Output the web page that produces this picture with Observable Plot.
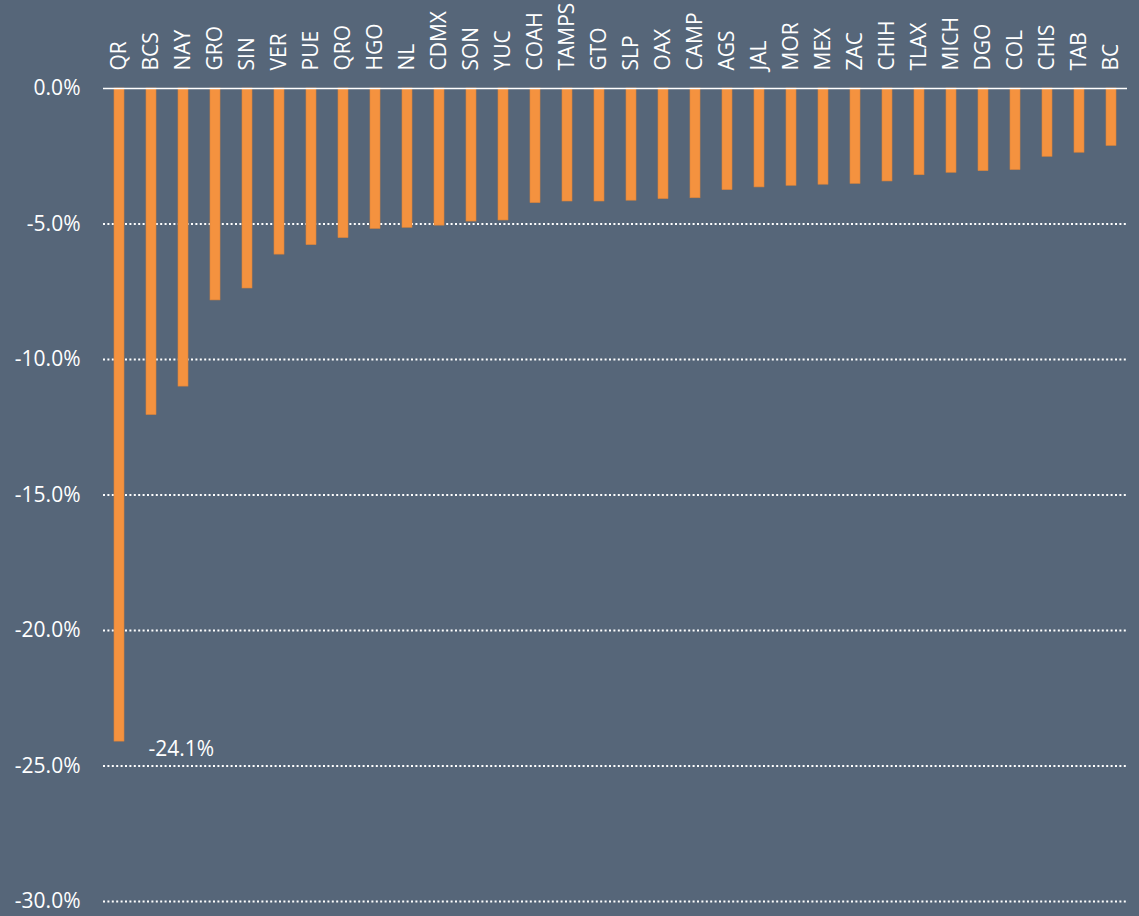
<!DOCTYPE html>
<html>
<head>
<meta charset="utf-8">
<script src="https://cdn.jsdelivr.net/npm/d3@7"></script>
<script src="https://cdn.jsdelivr.net/npm/@observablehq/plot@0.6"></script>
<style>
  html, body { margin: 0; padding: 0; background: #566679; }
  #chart svg { display: block; }
</style>
</head>
<body>
<div id="chart"></div>
<script>
const states = ["QR","BCS","NAY","GRO","SIN","VER","PUE","QRO","HGO","NL","CDMX","SON","YUC","COAH","TAMPS","GTO","SLP","OAX","CAMP","AGS","JAL","MOR","MEX","ZAC","CHIH","TLAX","MICH","DGO","COL","CHIS","TAB","BC"];
const values = [-24.1,-12.05,-11.0,-7.82,-7.38,-6.13,-5.78,-5.52,-5.18,-5.14,-5.06,-4.91,-4.87,-4.23,-4.17,-4.17,-4.14,-4.08,-4.05,-3.75,-3.65,-3.59,-3.55,-3.52,-3.43,-3.2,-3.11,-3.05,-3.01,-2.52,-2.37,-2.12];
const yTicks = [0,-5,-10,-15,-20,-25,-30];
const gridTicks = [-5,-10,-15,-20,-25,-30];
const highlight = [{state: "QR", value: -24.1, label: "-24.1%"}];

const data = states.map((s, i) => ({state: s, value: values[i]}));
const font = "'Open Sans', sans-serif";

const chart = Plot.plot({
  width: 1139,
  height: 916,
  marginLeft: 103,
  marginRight: 12,
  marginTop: 88,
  marginBottom: 15,
  style: {background: "#566679", color: "white", fontFamily: font, fontSize: "21px"},
  x: {domain: states, paddingInner: 0.68, paddingOuter: 0.34, axis: null},
  y: {domain: [-30, 0], label: null},
  marks: [
    Plot.ruleY(gridTicks, {stroke: "white", strokeWidth: 2, strokeDasharray: "2,2.4"}),
    Plot.barY(data, {x: "state", y: "value", fill: "#F4923F", stroke: "#d9833a", strokeWidth: 0.6}),
    Plot.ruleY([0], {stroke: "white", strokeWidth: 1.6}),
    Plot.axisY({ticks: yTicks, label: null, tickFormat: d => d.toFixed(1) + "%", tickSize: 0, tickPadding: 23, fontSize: 21, fill: "white", fontFamily: font}),
    Plot.text(states, {x: d => d, y: () => 0, text: d => d, rotate: -90, textAnchor: "start", dy: -18, fill: "white", fontSize: 21, fontFamily: font}),
    Plot.text(highlight, {x: "state", y: "value", text: "label", textAnchor: "start", dx: 29, dy: 8, fill: "white", fontSize: 21, fontFamily: font})
  ]
});
document.getElementById("chart").appendChild(chart);
</script>
</body>
</html>
